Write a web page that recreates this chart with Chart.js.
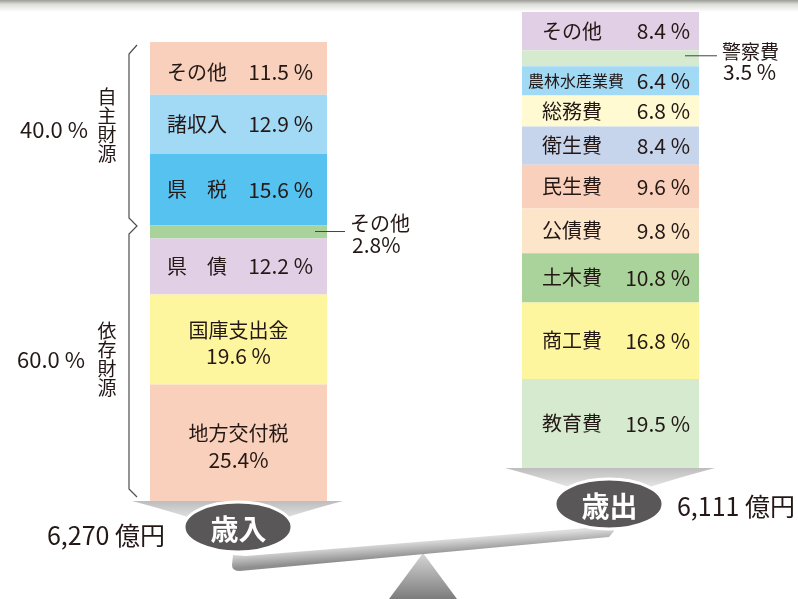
<!DOCTYPE html>
<html><head><meta charset="utf-8">
<script src="https://cdn.jsdelivr.net/npm/chart.js@4.4.1/dist/chart.umd.min.js"></script>
<style>html,body{margin:0;padding:0;background:#fff;overflow:hidden}</style>
</head><body>
<canvas id="c" width="798" height="599"></canvas>
<script>
// ---- data ----
const revenueCategories = ['地方交付税','国庫支出金','県債','その他','県税','諸収入','その他'];
const revenueValues = [25.4, 19.6, 12.2, 2.8, 15.6, 12.9, 11.5];
const expenditureCategories = ['教育費','商工費','土木費','公債費','民生費','衛生費','総務費','農林水産業費','警察費','その他'];
const expenditureValues = [19.5, 16.8, 10.8, 9.8, 9.6, 8.4, 6.8, 6.4, 3.5, 8.4];
const barLabels = ['歳入','歳出'];
const totals = ['6,270 億円','6,111 億円'];
const groupLabels = ['自主財源','依存財源'];
const groupShares = ['40.0 %','60.0 %'];

// ---- styles ----
const revenueColors = ['#f9d0bb','#fef69e','#e1cfe5','#a9d39b','#55c2f0','#a2d9f5','#f9d0bb'];
const expenditureColors = ['#d6eacf','#fef69e','#a9d39b','#fde5c9','#f9d0bb','#c7d5ec','#fffad1','#a2d9f5','#d6eacf','#e1cfe5'];
const revenueModes = ['two','two','row','callout','row','row','row'];
const revenueTight = [true,false,false,true,false,false,false];
const expenditureModes = ['row','row','row','row','row','row','row','row','callout','row'];

const FONT = '"Noto Sans CJK JP","Noto Sans",sans-serif';
const TXT = '#231815';
function txt(ctx, s, x, y, size, align, color, weight){
  ctx.font = (weight||'normal') + ' ' + size + 'px ' + FONT;
  ctx.fillStyle = color || TXT;
  ctx.textAlign = align || 'left';
  ctx.textBaseline = 'middle';
  ctx.fillText(s, x, y);
}
function pct(v, tight){ return v.toFixed(1) + (tight ? '%' : ' %'); }
function spaced(n){ return n.length === 2 ? n[0] + '　' + n[1] : n; }

const datasets = [];
revenueValues.forEach((v,i)=>datasets.push({
  label: revenueCategories[i], data: [v, null], backgroundColor: revenueColors[i],
  yAxisID: 'yL', side: 0, idx: i
}));
expenditureValues.forEach((v,i)=>datasets.push({
  label: expenditureCategories[i], data: [null, v], backgroundColor: expenditureColors[i],
  yAxisID: 'yR', side: 1, idx: i
}));

const bgPlugin = {
  id: 'bg',
  beforeDraw(chart){
    const ctx = chart.ctx;
    ctx.save();
    ctx.fillStyle = '#fff';
    ctx.fillRect(0,0,chart.width,chart.height);
    const g = ctx.createLinearGradient(0,0,0,12);
    g.addColorStop(0,'#9c9c96');
    g.addColorStop(0.35,'#dcdcd8');
    g.addColorStop(1,'#ffffff');
    ctx.fillStyle = g;
    ctx.fillRect(0,0,chart.width,12);
    ctx.restore();
  }
};

const labelPlugin = {
  id: 'labels',
  afterDatasetsDraw(chart){
    const ctx = chart.ctx;
    ctx.save();
    chart.data.datasets.forEach((ds, di)=>{
      const el = chart.getDatasetMeta(di).data[ds.side];
      if(!el) return;
      const left = el.x - el.width/2, right = el.x + el.width/2;
      const top = Math.min(el.y, el.base), bottom = Math.max(el.y, el.base);
      const cy = (top + bottom)/2;
      const v = ds.data[ds.side];
      if(ds.side === 0){
        const mode = revenueModes[ds.idx];
        const tight = revenueTight[ds.idx];
        const dy = (ds.idx === revenueValues.length - 1) ? 4 : 0;
        if(mode === 'row'){
          txt(ctx, spaced(ds.label), left + 17, cy + dy, 20, 'left');
          txt(ctx, pct(v, tight), right - 14, cy + dy, 21, 'right');
        } else if(mode === 'two'){
          txt(ctx, ds.label, el.x, cy - 9, 20, 'center');
          txt(ctx, pct(v, tight), el.x, cy + 17, 21, 'center');
        } else {
          ctx.strokeStyle = '#444'; ctx.lineWidth = 1;
          ctx.beginPath(); ctx.moveTo(right - 12, cy - 0.5); ctx.lineTo(right + 18, cy - 0.5); ctx.stroke();
          txt(ctx, ds.label, right + 23, cy - 9, 20, 'left');
          txt(ctx, pct(v, tight), right + 25, cy + 13, 21, 'left');
        }
      } else {
        const mode = expenditureModes[ds.idx];
        if(mode === 'row'){
          const long = ds.label.length > 4;
          txt(ctx, ds.label, left + (long ? 54 : 50), cy, long ? 16 : 20, 'center');
          txt(ctx, pct(v, false), right - 9, cy, 21, 'right');
        } else {
          ctx.strokeStyle = '#444'; ctx.lineWidth = 1;
          ctx.beginPath(); ctx.moveTo(right - 14, cy - 2.5); ctx.lineTo(right + 18, cy - 2.5); ctx.stroke();
          txt(ctx, ds.label, right + 23, cy - 7, 19, 'left');
          txt(ctx, pct(v, false), right + 24, cy + 14, 21, 'left');
        }
      }
    });
    ctx.restore();
  }
};

const decoPlugin = {
  id: 'deco',
  afterDraw(chart){
    const ctx = chart.ctx;
    ctx.save();
    // brace
    ctx.strokeStyle = '#4d4d4d'; ctx.lineWidth = 1.2;
    ctx.beginPath();
    ctx.moveTo(137,45); ctx.lineTo(129,54); ctx.lineTo(129,218); ctx.lineTo(137,226);
    ctx.lineTo(129,234); ctx.lineTo(129,489); ctx.lineTo(137,497);
    ctx.stroke();
    // group labels
    const gy = [[97,116,135,154],[331,350,369,388]];
    groupLabels.forEach((s,k)=>{
      [...s].forEach((ch,j)=>txt(ctx, ch, 107, gy[k][j], 19, 'center'));
    });
    txt(ctx, groupShares[0], 54, 130, 22, 'center');
    txt(ctx, groupShares[1], 51, 360, 22, 'center');

    // fulcrum
    let g = ctx.createLinearGradient(0,553,0,599);
    g.addColorStop(0,'#d6d6d6'); g.addColorStop(1,'#7c7c7c');
    ctx.fillStyle = g;
    ctx.beginPath(); ctx.moveTo(423,553); ctx.lineTo(457,599); ctx.lineTo(389,599); ctx.closePath(); ctx.fill();

    // beam
    g = ctx.createLinearGradient(420,541,421,556);
    g.addColorStop(0,'#dedede'); g.addColorStop(1,'#8e8e8e');
    ctx.fillStyle = g;
    ctx.beginPath();
    ctx.moveTo(233,555); ctx.lineTo(246,556); ctx.lineTo(612,526); ctx.lineTo(614,531);
    ctx.lineTo(609,537); ctx.lineTo(240,571); ctx.quadraticCurveTo(232,571,232,565); ctx.closePath();
    ctx.fill();

    // pans
    function pan(x1,x2,yTop,cx){
      const gg = ctx.createLinearGradient(0,yTop,0,yTop+22);
      gg.addColorStop(0,'#bdbdbd'); gg.addColorStop(1,'#ebebeb');
      ctx.fillStyle = gg;
      ctx.beginPath();
      ctx.moveTo(x1,yTop); ctx.lineTo(x2,yTop);
      ctx.quadraticCurveTo(x2-45, yTop+12, cx+32, yTop+22);
      ctx.lineTo(cx-32, yTop+22);
      ctx.quadraticCurveTo(x1+45, yTop+12, x1, yTop);
      ctx.closePath(); ctx.fill();
    }
    pan(132,343,501,238);
    pan(505,715,468,609);

    // ellipses
    function badge(cx,cy,s){
      ctx.beginPath(); ctx.ellipse(cx,cy,54,25,0,0,Math.PI*2);
      ctx.fillStyle = '#595757'; ctx.fill();
      ctx.strokeStyle = '#ffffff'; ctx.lineWidth = 3; ctx.stroke();
      txt(ctx, s, cx+0.5, cy+2, 28, 'center', '#ffffff', 'bold');
    }
    badge(238,527,barLabels[0]);
    badge(609,504,barLabels[1]);

    // totals
    txt(ctx, totals[0], 106, 535, 25, 'center');
    txt(ctx, totals[1], 736, 506, 25, 'center');
    ctx.restore();
  }
};

new Chart(document.getElementById('c'), {
  type: 'bar',
  data: { labels: barLabels, datasets },
  options: {
    responsive: false,
    animation: false,
    layout: { padding: { left: 52.5, right: 1.5, top: 12, bottom: 98 } },
    datasets: { bar: { barPercentage: 1, categoryPercentage: 177/372, borderWidth: 0 } },
    scales: {
      x: { stacked: true, display: false },
      yL: { stacked: true, display: false, position: 'left', min: 0, max: 100*489/459 },
      yR: { stacked: true, display: false, position: 'right', min: 100 - 100*489/456, max: 100 }
    },
    plugins: { legend: { display: false }, tooltip: { enabled: false } }
  },
  plugins: [bgPlugin, labelPlugin, decoPlugin]
});
</script>
</body></html>
